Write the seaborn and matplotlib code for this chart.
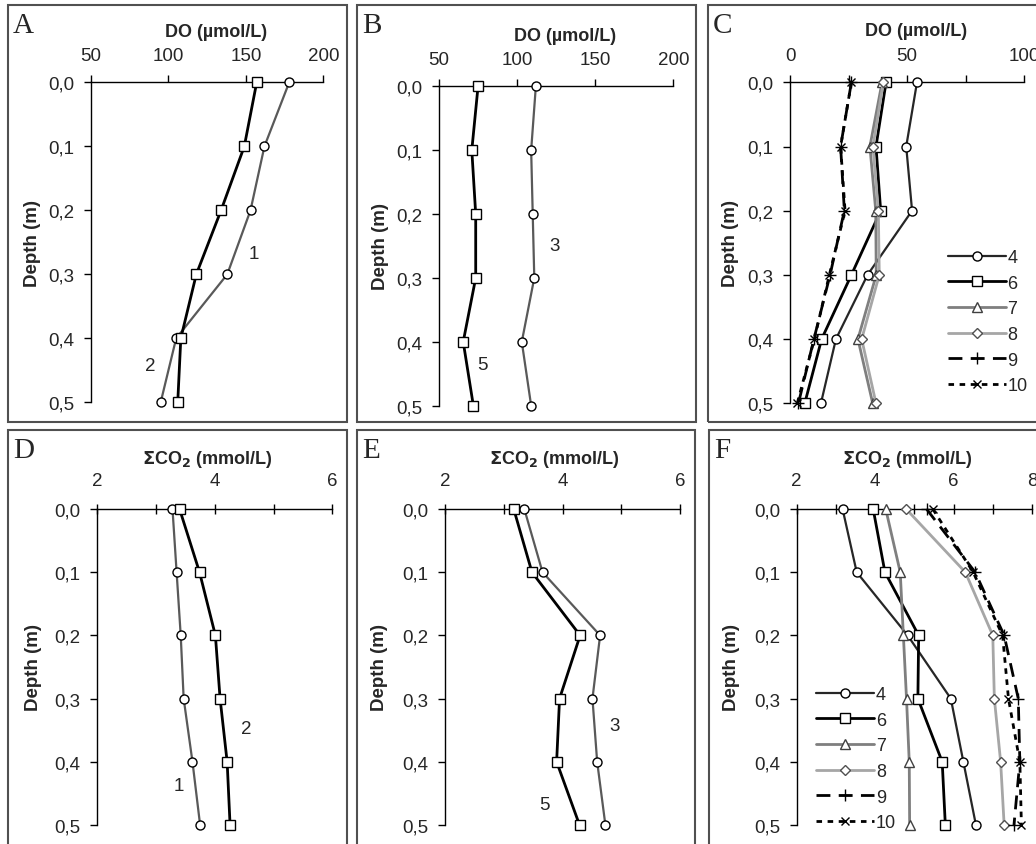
import matplotlib
matplotlib.use("Agg")
import matplotlib.pyplot as plt
from matplotlib.patches import Rectangle
import seaborn as sns

sns.set_style("ticks")
plt.rcParams['font.family'] = ['Liberation Sans', 'DejaVu Sans']

# depth of each sample (m)
depth = [0.0, 0.1, 0.2, 0.3, 0.4, 0.5]
depth_labels = ['0,0', '0,1', '0,2', '0,3', '0,4', '0,5']

# dissolved oxygen (umol/L)
do_1 = [178, 162, 153, 138, 105, 95]
do_2 = [157, 149, 134, 118, 108, 106]
do_3 = [112, 109, 110, 111, 103, 109]
do_5 = [75, 71, 73.5, 73.5, 65.5, 72]
do_4 = [54.2, 49.6, 52.1, 33.1, 19.6, 13.2]
do_6 = [41.0, 36.7, 38.7, 26.2, 13.5, 6.3]
do_7 = [39.3, 34.1, 36.6, 36.8, 29.0, 35.3]
do_8 = [39.8, 35.4, 37.7, 38.1, 30.6, 36.7]
do_9 = [26.2, 21.6, 23.2, 17.1, 10.2, 3.6]
do_10 = [26.2, 21.6, 23.5, 16.8, 10.4, 3.1]

# total CO2 (mmol/L)
co2_1 = [3.28, 3.35, 3.42, 3.47, 3.62, 3.75]
co2_2 = [3.40, 3.74, 4.01, 4.09, 4.21, 4.26]
co2_3 = [3.35, 3.66, 4.64, 4.51, 4.59, 4.73]
co2_5 = [3.17, 3.48, 4.30, 3.95, 3.90, 4.29]
co2_4 = [3.17, 3.53, 4.83, 5.93, 6.25, 6.57]
co2_6 = [3.95, 4.25, 5.11, 5.09, 5.71, 5.79]
co2_7 = [4.27, 4.64, 4.72, 4.80, 4.87, 4.88]
co2_8 = [4.79, 6.30, 7.00, 7.04, 7.20, 7.29]
co2_9 = [5.31, 6.55, 7.29, 7.65, 7.69, 7.54]
co2_10 = [5.47, 6.50, 7.25, 7.40, 7.69, 7.73]

W, H = 1036, 845
fig = plt.figure(figsize=(W / 100, H / 100), dpi=100)


def px_axes(l, t, r, b):
    return fig.add_axes([l / W, 1 - b / H, (r - l) / W, (b - t) / H])


# line styles for the sites
sty = {
    '1': dict(color='#595959', lw=1.6, marker='o', ms=6.5),
    '2': dict(color='black', lw=2.0, marker='s', ms=6.5),
    '3': dict(color='#595959', lw=1.6, marker='o', ms=6.5),
    '5': dict(color='black', lw=2.0, marker='s', ms=6.5),
    '4': dict(color='#262626', lw=1.6, marker='o', ms=6.5),
    '6': dict(color='black', lw=2.0, marker='s', ms=6.5),
    '7': dict(color='#7f7f7f', lw=2.0, marker='^', ms=7, mec='#404040'),
    '8': dict(color='#a6a6a6', lw=2.0, marker='D', ms=5.5, mec='#505050'),
    '9': dict(color='black', lw=2.0, marker='+', ms=8, ls=(0, (5, 3))),
    '10': dict(color='black', lw=2.0, marker='x', ms=6, ls=(0, (2, 2))),
}


def draw(ax, vals, key, label=None):
    s = sty[key]
    sns.lineplot(x=vals, y=depth, ax=ax, sort=False, estimator=None,
                 color=s['color'], linewidth=s['lw'], linestyle=s.get('ls', '-'),
                 marker=s['marker'], markersize=s['ms'],
                 markerfacecolor='white', markeredgecolor=s.get('mec', 'black'),
                 markeredgewidth=1.0, clip_on=False, label=label, legend=False,
                 zorder=3)


def style_axes(ax, xlim, major, minor, xtitle, tx, yx, tickdir):
    ax.set_xlim(*xlim)
    ax.set_ylim(0.5, 0.0)
    ax.xaxis.tick_top()
    ax.set_xticks(minor)
    ax.set_xticklabels([str(v) if v in major else '' for v in minor])
    ax.set_yticks(depth)
    ax.set_yticklabels(depth_labels)
    for sp in ['right', 'bottom']:
        ax.spines[sp].set_visible(False)
    for sp in ['left', 'top']:
        ax.spines[sp].set_linewidth(1.0)
        ax.spines[sp].set_color('black')
    ax.tick_params(axis='x', direction=tickdir, length=7 if tickdir == 'inout' else 5,
                   width=1, labelsize=13.5, pad=11 if tickdir == 'inout' else 8,
                   color='black')
    ax.tick_params(axis='y', direction='out', length=5, width=1, labelsize=13.5, pad=7,
                   color='black')
    ax.xaxis.set_label_position('top')
    ax.set_xlabel(xtitle, fontsize=13, fontweight='bold')
    ax.xaxis.set_label_coords(tx, 1.16)
    ax.xaxis.label.set_verticalalignment('center')
    ax.set_ylabel('Depth (m)', fontsize=13.5, fontweight='bold')
    ax.yaxis.set_label_coords(yx, 0.5)
    ax.yaxis.label.set_verticalalignment('center')
    ax.patch.set_alpha(0)


do_title = 'DO (µmol/L)'
co2_title = r'$\mathbf{\Sigma}$CO$_\mathbf{2}$ (mmol/L)'

# ---- panel A
axA = px_axes(91, 83.3, 323.3, 403.3)
draw(axA, do_1, '1')
draw(axA, do_2, '2')
style_axes(axA, (50, 200), [50, 100, 150, 200], [50, 100, 150, 200], do_title, 0.54, -0.25, 'out')
axA.text(155, 0.268, '1', fontsize=13.5, ha='center', va='center')
axA.text(88, 0.443, '2', fontsize=13.5, ha='center', va='center')

# ---- panel B
axB = px_axes(439, 87.3, 673.3, 406.7)
draw(axB, do_3, '3')
draw(axB, do_5, '5')
style_axes(axB, (50, 200), [50, 100, 150, 200], [50, 100, 150, 200], do_title, 0.54, -0.25, 'out')
axB.text(124, 0.249, '3', fontsize=13.5, ha='center', va='center')
axB.text(78, 0.435, '5', fontsize=13.5, ha='center', va='center')

# ---- panel C
axC = px_axes(790, 83.3, 1024.3, 404.3)
for vals, key in [(do_4, '4'), (do_6, '6'), (do_7, '7'), (do_8, '8'), (do_9, '9'), (do_10, '10')]:
    draw(axC, vals, key, label=key)
style_axes(axC, (0, 100), [0, 50, 100], [0, 25, 50, 75, 100], do_title, 0.54, -0.256, 'out')
axC.legend(loc='upper left', bbox_to_anchor=(0.62, 0.52), frameon=False, fontsize=13,
           handlelength=3.2, handletextpad=0.1, labelspacing=0.48, borderpad=0.2)

# ---- panel D
axD = px_axes(97.3, 510, 332.3, 826)
draw(axD, co2_1, '1')
draw(axD, co2_2, '2')
style_axes(axD, (2, 6), [2, 4, 6], [2, 3, 4, 5, 6], co2_title, 0.47, -0.27, 'inout')
axD.text(4.54, 0.348, '2', fontsize=13.5, ha='center', va='center')
axD.text(3.39, 0.438, '1', fontsize=13.5, ha='center', va='center')

# ---- panel E
axE = px_axes(445, 510, 680, 826)
draw(axE, co2_3, '3')
draw(axE, co2_5, '5')
style_axes(axE, (2, 6), [2, 4, 6], [2, 3, 4, 5, 6], co2_title, 0.465, -0.277, 'inout')
axE.text(4.88, 0.343, '3', fontsize=13.5, ha='center', va='center')
axE.text(3.69, 0.467, '5', fontsize=13.5, ha='center', va='center')

# ---- panel F
axF = px_axes(796.7, 510, 1032, 826)
for vals, key in [(co2_4, '4'), (co2_6, '6'), (co2_7, '7'), (co2_8, '8'), (co2_9, '9'), (co2_10, '10')]:
    draw(axF, vals, key, label=key)
style_axes(axF, (2, 8), [2, 4, 6, 8], [2, 3, 4, 5, 6, 7, 8], co2_title, 0.47, -0.278, 'inout')
axF.legend(loc='upper left', bbox_to_anchor=(0.03, 0.48), frameon=False, fontsize=13,
           handlelength=3.2, handletextpad=0.1, labelspacing=0.48, borderpad=0.2)

# panel frames and letters
frames = [(8, 6, 347, 423), (357, 6, 696, 423), (708, 6, 1040, 423),
          (8, 431, 347, 850), (357, 431, 695, 850), (709, 431, 1040, 850)]
letters = ['A', 'B', 'C', 'D', 'E', 'F']
for (l, t, r, b), let in zip(frames, letters):
    fig.add_artist(Rectangle((l / W, 1 - b / H), (r - l) / W, (b - t) / H,
                             transform=fig.transFigure, fill=False,
                             edgecolor='#505050', linewidth=1.5, zorder=0))
    fig.text((l + 5) / W, 1 - (t + 7) / H, let, fontsize=21, va='top', ha='left',
             family=['Liberation Serif', 'DejaVu Serif'])

fig.savefig('out.png', dpi=100)
